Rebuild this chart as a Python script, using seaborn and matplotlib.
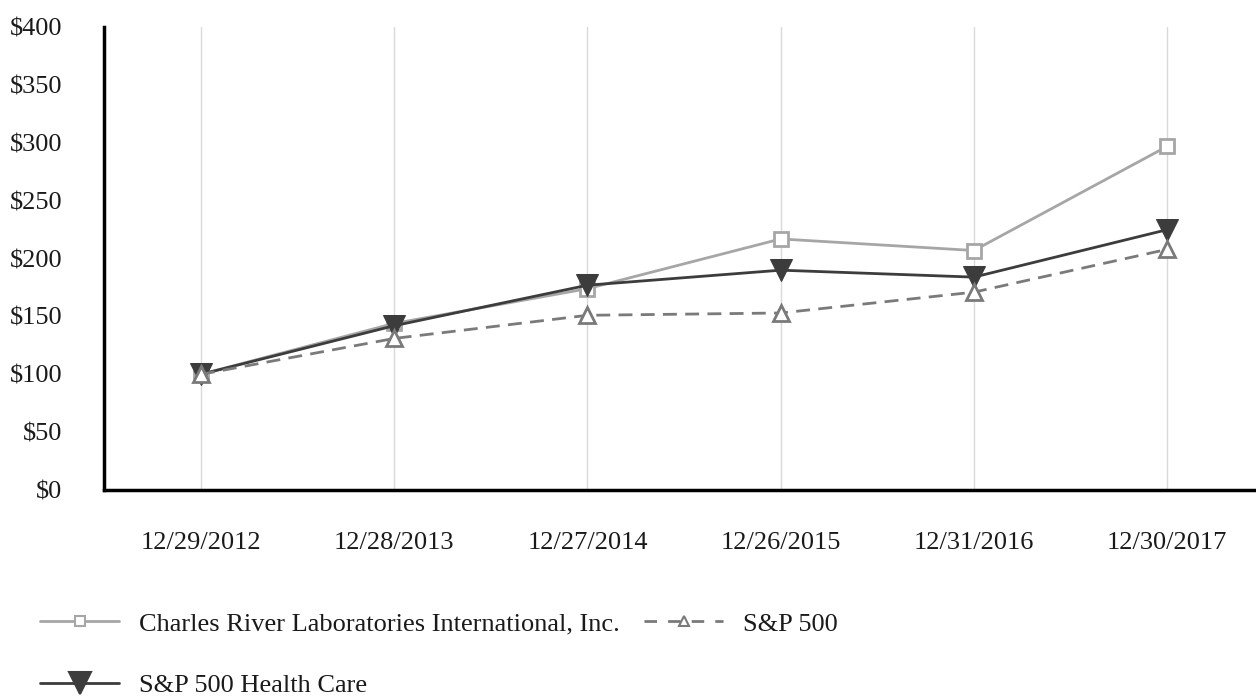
import pandas as pd
import matplotlib
matplotlib.use('Agg')
import matplotlib.pyplot as plt
import seaborn as sns

dates = ['12/29/2012', '12/28/2013', '12/27/2014', '12/26/2015', '12/31/2016', '12/30/2017']
crl = [100, 144, 174, 217, 207, 297]
sp500 = [100, 131, 151, 153, 171, 208]
health = [100, 142, 177, 190, 184, 225]

names = ['Charles River Laboratories International, Inc.', 'S&P 500', 'S&P 500 Health Care']

df = pd.DataFrame({
    'date': dates * 3,
    'x': list(range(len(dates))) * 3,
    'value': crl + sp500 + health,
    'series': [names[0]] * 6 + [names[1]] * 6 + [names[2]] * 6,
})

sns.set_style('white')
plt.rcParams['font.family'] = ['Liberation Serif', 'DejaVu Serif']

fig = plt.figure(figsize=(12.56, 6.98), dpi=100)
ax = fig.add_axes([0.0828, 0.298, 0.9172, 0.663])

colors = {names[0]: '#a6a6a6', names[1]: '#7a7a7a', names[2]: '#3c3c3c'}

for x in range(len(dates)):
    ax.axvline(x, color='#d9d9d9', lw=1, zorder=0)

sns.lineplot(data=df[df.series == names[0]], x='x', y='value', ax=ax, color=colors[names[0]],
             lw=2, marker='s', markersize=10, markerfacecolor='white',
             markeredgecolor=colors[names[0]], markeredgewidth=2, label=names[0], zorder=3)
sns.lineplot(data=df[df.series == names[2]], x='x', y='value', ax=ax, color=colors[names[2]],
             lw=2, marker='v', markersize=16, markerfacecolor=colors[names[2]],
             markeredgecolor=colors[names[2]], label=names[2], zorder=4)
sns.lineplot(data=df[df.series == names[1]], x='x', y='value', ax=ax, color=colors[names[1]],
             lw=2, marker='^', markersize=11, markerfacecolor='white',
             markeredgecolor=colors[names[1]], markeredgewidth=2, label=names[1], zorder=5)
ax.lines[-1].set_linestyle((0, (5, 3)))

ax.set_xlim(-0.502, 5.46)
ax.set_ylim(0, 400)
ax.set_yticks(range(0, 401, 50))
ax.set_yticklabels(['$' + str(v) for v in range(0, 401, 50)])
ax.set_xticks(range(len(dates)))
ax.set_xticklabels(dates)
ax.set_xlabel('')
ax.set_ylabel('')

for s in ['top', 'right']:
    ax.spines[s].set_visible(False)
for s in ['left', 'bottom']:
    ax.spines[s].set_color('black')
    ax.spines[s].set_linewidth(2.5)

ax.tick_params(axis='both', which='both', length=10, width=1, color='#808080',
               labelsize=19, labelcolor='#1a1a1a')
ax.tick_params(axis='x', pad=20)
ax.tick_params(axis='y', pad=20)

handles, labels = ax.get_legend_handles_labels()
ax.get_legend().remove()
order = [labels.index(names[0]), labels.index(names[2]), labels.index(names[1])]
leg = fig.legend([handles[i] for i in order], [labels[i] for i in order], ncol=2,
                 loc='upper left', bbox_to_anchor=(0.0215, 0.1418), bbox_transform=fig.transFigure,
                 frameon=False, fontsize=19, labelspacing=1.45, handlelength=3.0,
                 columnspacing=0.9, borderpad=0, handletextpad=0.76)
msizes = [7, 16, 7]
for h, ms in zip(leg.legend_handles, msizes):
    h.set_markersize(ms)
    h.set_markeredgewidth(1.5)
leg.legend_handles[2].set_linestyle((0, (4.5, 4)))
for t in leg.get_texts():
    t.set_color('#1a1a1a')

fig.savefig('out.png', dpi=100)
